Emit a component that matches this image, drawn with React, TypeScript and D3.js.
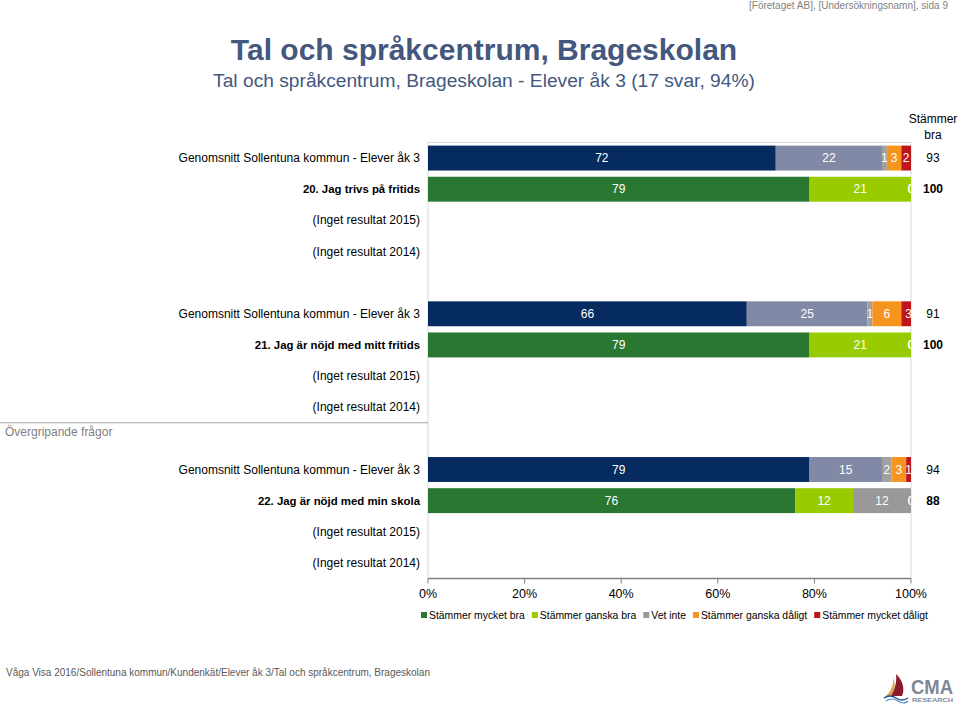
import React from "react";
import * as d3 from "d3";

const pageHeader = "[Företaget AB], [Undersökningsnamn], sida 9";
const title = "Tal och språkcentrum, Brageskolan";
const subtitle = "Tal och språkcentrum, Brageskolan - Elever åk 3 (17 svar, 94%)";
const footer = "Våga Visa 2016/Sollentuna kommun/Kundenkät/Elever åk 3/Tal och språkcentrum, Brageskolan";
const groupLabel = "Övergripande frågor";
const braHeader = ["Stämmer", "bra"];

const questions = [
  "20. Jag trivs på fritids",
  "21. Jag är nöjd med mitt fritids",
  "22. Jag är nöjd med min skola",
];
const kommunLabel = "Genomsnitt Sollentuna kommun - Elever åk 3";
const noResultLabels = ["(Inget resultat 2015)", "(Inget resultat 2014)"];

const seriesNames = [
  "Stämmer mycket bra",
  "Stämmer ganska bra",
  "Vet inte",
  "Stämmer ganska dåligt",
  "Stämmer mycket dåligt",
];
const kommunValues = [
  [72, 22, 1, 3, 2],
  [66, 25, 1, 6, 3],
  [79, 15, 2, 3, 1],
];
const schoolValues = [
  [79, 21, 0, 0, 0],
  [79, 21, 0, 0, 0],
  [76, 12, 12, 0, 0],
];
const kommunBra = [93, 91, 94];
const schoolBra = [100, 100, 88];
const tickValues = [0, 20, 40, 60, 80, 100];

const kommunColors = ["#062b61", "#8189a6", "#a0a0a0", "#f7941d", "#c0141c"];
const schoolColors = ["#2a7732", "#99cc00", "#999999", "#f7941d", "#c0141c"];

const FONT = "Liberation Sans, Arial, sans-serif";

type Row = { key: string; label: string; kind: "kommun" | "school" | "none" | "blank"; q: number };

const rows: Row[] = [];
questions.forEach((q, i) => {
  rows.push({ key: `k${i}`, label: kommunLabel, kind: "kommun", q: i });
  rows.push({ key: `s${i}`, label: q, kind: "school", q: i });
  noResultLabels.forEach((n, j) => rows.push({ key: `n${i}-${j}`, label: n, kind: "none", q: i }));
  if (i < questions.length - 1) rows.push({ key: `b${i}`, label: "", kind: "blank", q: i });
});

function measure(text: string, font: string): number {
  const c = document.createElement("canvas").getContext("2d");
  if (!c) return text.length * 5.5;
  c.font = font;
  return c.measureText(text).width;
}

export default function App() {
  const W = 960, H = 705;
  const left = 428, right = 911, top = 142.5, bottom = 578.5;
  const x = d3.scaleLinear().domain([0, 100]).range([left, right]);
  const y = d3.scaleBand<string>().domain(rows.map(r => r.key)).range([top, bottom]).paddingInner(0.2).paddingOuter(0.1);
  const bw = y.bandwidth();
  const braX = 933;

  const legendSize = 10.4;
  const legendFont = `${legendSize}px ${FONT}`;
  let lx = 421;
  const legendItems = seriesNames.map((name, i) => {
    const item = { name, color: schoolColors[i], x: lx };
    lx += 7 + measure(name, legendFont) + 8;
    return item;
  });

  const groupLineY = (y(rows[8].key)! + y(rows[9].key)! + bw) / 2;

  return (
    <svg width={W} height={H} style={{ position: "absolute", left: 0, top: 0, background: "#fff" }} fontFamily={FONT}>
      <defs>
        <clipPath id="plotclip">
          <rect x={left} y={top} width={right - left} height={bottom - top} />
        </clipPath>
      </defs>
      <text x={948} y={9} fontSize={10} fill="#7f7f7f" textAnchor="end">{pageHeader}</text>
      <text x={484} y={60} fontSize={30} fontWeight="bold" fill="#44577f" textAnchor="middle">{title}</text>
      <text x={484} y={87} fontSize={19.2} fill="#44577f" textAnchor="middle">{subtitle}</text>

      {/* plot border */}
      <rect x={left} y={top} width={right - left} height={bottom - top} fill="none" stroke="#d9d9d9" strokeWidth={1} />

      {/* rows */}
      {rows.map(r => {
        const yy = y(r.key)!;
        if (r.kind === "blank") return null;
        const labelEl = (
          <text key={r.key + "l"} x={420} y={yy + bw / 2 + 4} fontSize={r.kind === "school" ? 11.4 : 12} textAnchor="end" fill="#000"
            fontWeight={r.kind === "school" ? "bold" : "normal"}>{r.label}</text>
        );
        if (r.kind === "none") return labelEl;
        const vals = r.kind === "kommun" ? kommunValues[r.q] : schoolValues[r.q];
        const colors = r.kind === "kommun" ? kommunColors : schoolColors;
        const cum = d3.cumsum(vals);
        const bra = r.kind === "kommun" ? kommunBra[r.q] : schoolBra[r.q];
        return (
          <g key={r.key}>
            {labelEl}
            <g clipPath="url(#plotclip)">
              {vals.map((v, i) => {
                const x0 = x(cum[i] - v), x1 = x(cum[i]);
                return <rect key={i} x={x0} y={yy} width={Math.max(0, x1 - x0)} height={bw} fill={colors[i]} />;
              })}
              {vals.map((v, i) => {
                const xc = x(Math.min(100, cum[i] - v / 2));
                return <text key={"t" + i} x={xc} y={yy + bw / 2 + 4} fontSize={12} fill="#fff" textAnchor="middle">{v}</text>;
              })}
            </g>
            <text x={braX} y={yy + bw / 2 + 4} fontSize={12} textAnchor="middle" fill="#000"
              fontWeight={r.kind === "school" ? "bold" : "normal"}>{bra}</text>
          </g>
        );
      })}

      <text x={braX} y={123} fontSize={12} textAnchor="middle">{braHeader[0]}</text>
      <text x={braX} y={139} fontSize={12} textAnchor="middle">{braHeader[1]}</text>

      {/* group label */}
      <line x1={0} x2={left} y1={groupLineY} y2={groupLineY} stroke="#a6a6a6" />
      <text x={5} y={groupLineY + 13} fontSize={12} fill="#7f7f7f">{groupLabel}</text>

      {/* x axis */}
      <line x1={left} x2={right} y1={bottom} y2={bottom} stroke="#808080" strokeWidth={1.5} />
      {tickValues.map(t => (
        <g key={t}>
          <line x1={x(t)} x2={x(t)} y1={bottom} y2={bottom + 5} stroke="#808080" />
          <text x={x(t)} y={bottom + 19} fontSize={12.5} textAnchor="middle">{t + "%"}</text>
        </g>
      ))}

      {/* legend */}
      {legendItems.map(it => (
        <g key={it.name}>
          <rect x={it.x} y={612} width={6} height={6} fill={it.color} />
          <text x={it.x + 8} y={619} fontSize={legendSize}>{it.name}</text>
        </g>
      ))}

      <text x={6} y={676} fontSize={10} fill="#595959">{footer}</text>

      {/* logo */}
      <g>
        <path d="M896,674 C903,680 905,690 902,696 L890,696 C895,690 897,682 896,674 Z" fill="#8b1a2b" />
        <path d="M893,678 C894,686 890,692 886,696 L891,696 C895,690 896,684 893,678 Z" fill="#d9a548" />
        <path d="M884,698 Q890,694 896,698 T908,698" fill="none" stroke="#1f4e8c" strokeWidth={1.5} />
        <path d="M886,701 Q892,697 898,701 T908,701" fill="none" stroke="#4f8fc0" strokeWidth={1.2} />
        <text x={911} y={694} fontSize={21} fontWeight="bold" fill="#7d8896" textLength={42} lengthAdjust="spacingAndGlyphs">CMA</text>
        <text x={912} y={701.5} fontSize={5.5} fontWeight="bold" fill="#7d8896" textLength={41} lengthAdjust="spacingAndGlyphs">RESEARCH</text>
      </g>
    </svg>
  );
}
